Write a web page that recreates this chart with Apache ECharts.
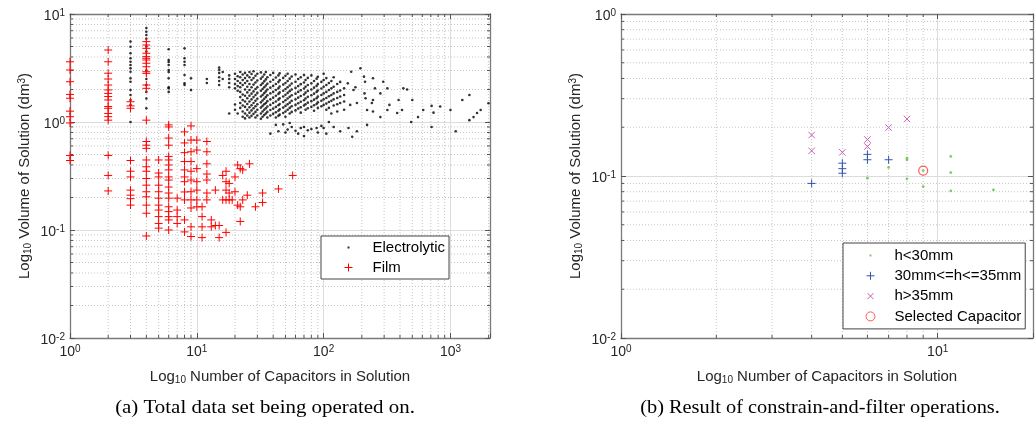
<!DOCTYPE html>
<html>
<head>
<meta charset="utf-8">
<script src="https://cdn.jsdelivr.net/npm/echarts@6/dist/echarts.min.js"></script>
<style>
html,body{margin:0;padding:0;background:#fff;}
#c{width:1036px;height:423px;}
</style>
</head>
<body>
<div id="c"></div>
<script>
// ================= DATA =================
// (a) Film capacitors: [count, [volumes...]]
const FILM_COLUMNS = [
  [1, [3.61, 3.03, 2.36, 1.80, 1.66, 1.26, 1.12, 0.98, 0.49, 0.44]],
  [2, [4.64, 3.61, 2.83, 2.50, 2.20, 1.98, 1.84, 1.72, 1.60, 1.39, 1.34, 1.20, 1.12, 1.04, 0.49, 0.32, 0.23]],
  [3, [1.54, 1.41, 1.34, 0.44, 0.35, 0.31, 0.234, 0.21, 0.195, 0.17]],
  [4, [5.55, 5.16, 4.81, 4.33, 4.03, 3.89, 3.75, 3.50, 3.25, 2.92, 2.82, 2.20, 2.05, 1.04, 0.66, 0.61, 0.57, 0.445, 0.385, 0.35, 0.30, 0.26, 0.226, 0.203, 0.170, 0.143, 0.088]],
  [5, [0.445, 0.337, 0.31, 0.26, 0.226, 0.197, 0.170, 0.153, 0.133, 0.115, 0.104]],
  [6, [0.94, 0.90, 0.71, 0.61, 0.48, 0.445, 0.40, 0.36, 0.31, 0.29, 0.25, 0.22, 0.197, 0.164, 0.148, 0.133, 0.124, 0.10]],
  [7, [0.197, 0.153, 0.133, 0.115]],
  [8, [0.81, 0.64, 0.52, 0.43, 0.36, 0.31, 0.28, 0.225, 0.19, 0.124, 0.096]],
  [9, [0.92, 0.68, 0.53, 0.43, 0.35, 0.29, 0.226, 0.19, 0.16, 0.107, 0.087]],
  [10, [0.68, 0.55, 0.37, 0.28, 0.234, 0.19, 0.164]],
  [11, [0.164, 0.133, 0.107, 0.085]],
  [12, [0.66, 0.53, 0.41, 0.33, 0.29, 0.22, 0.19]],
  [13, [0.124, 0.107]],
  [14, [0.234, 0.11]],
  [15, [0.11, 0.085]],
  [16, [0.32, 0.19]],
  [17, [0.35, 0.28, 0.234, 0.19, 0.095]],
  [18, [0.27, 0.22, 0.19]],
  [19, [0.19]],
  [20, [0.31, 0.226]],
  [21, [0.40, 0.17]],
  [22, [0.37, 0.164, 0.12]],
  [23, [0.36, 0.19]],
  [25, [0.21]],
  [26, [0.41]],
  [29, [0.164]],
  [33, [0.22, 0.18]],
  [44, [0.24]],
  [57, [0.32]]
];

// (a) Electrolytic capacitors: [count, [volumes...]]
const ELEC_COLUMNS = [
  [3, [5.55, 4.98, 4.33, 3.89, 3.61, 3.37, 3.14, 2.92, 2.54, 2.36, 1.98, 1.78, 1.6, 1.44, 1.0]],
  [4, [7.4, 6.85, 6.4, 5.9, 5.0, 4.5, 3.0, 2.5, 2.2, 1.9, 1.65, 1.34]],
  [6, [4.71, 3.75, 3.6, 3.37, 3.03, 2.9, 2.54, 2.1, 2.05, 1.9]],
  [8, [4.81, 3.89, 3.61, 3.37, 2.72, 2.28, 2.2]],
  [9, [2.54, 1.98]],
  [12, [2.5, 2.3]],
  [15, [3.2, 3.05, 2.85, 2.6, 2.4, 2.2]],
  [16, [2.9, 2.5]],
  [18, [2.7, 2.5, 2.3, 2.1, 1.2]],
  [20, [2.8, 2.5, 2.25, 2.05, 1.45, 1.3]],
  [21, [2.65, 2.4, 2.15, 1.95, 1.2]],
  [22, [2.9, 2.6, 2.3, 2.1, 1.9, 1.7, 1.5, 1.35]],
  [23, [2.75, 2.45, 2.2, 1.8, 1.6, 1.42, 1.25, 1.12]],
  [24, [2.85, 2.55, 2.3, 2.0, 1.75, 1.55, 1.38, 1.2, 1.08]],
  [25, [2.7, 2.4, 2.12, 1.88, 1.66, 1.47, 1.3, 1.15]],
  [26, [2.9, 2.6, 2.25, 1.98, 1.75, 1.55, 1.37, 1.22, 1.1]],
  [27, [2.78, 2.45, 2.1, 1.83, 1.62, 1.43, 1.28, 1.14]],
  [28, [2.95, 2.55, 2.22, 1.92, 1.7, 1.5, 1.34, 1.19]],
  [29, [2.68, 2.32, 2.02, 1.78, 1.57, 1.4, 1.24, 1.1]],
  [30, [2.8, 2.42, 2.1, 1.86, 1.64, 1.46, 1.3, 1.15]],
  [32, [2.88, 2.52, 2.2, 1.95, 1.72, 1.52, 1.36, 1.2, 1.07]],
  [33, [2.62, 2.28, 2.02, 1.78, 1.58, 1.41, 1.25, 1.12]],
  [34, [2.75, 2.38, 2.1, 1.85, 1.64, 1.46, 1.3, 1.16]],
  [35, [2.9, 2.48, 2.18, 1.92, 1.7, 1.5, 1.34, 1.2]],
  [36, [2.6, 2.26, 2.0, 1.77, 1.56, 1.39, 1.24, 1.1]],
  [38, [2.72, 2.36, 2.08, 1.84, 1.62, 1.44, 1.29, 1.15, 0.78]],
  [40, [2.85, 2.46, 2.16, 1.9, 1.68, 1.5, 1.33, 1.19]],
  [42, [2.58, 2.25, 1.98, 1.75, 1.55, 1.38, 1.23, 1.1, 0.94]],
  [44, [2.7, 2.34, 2.05, 1.82, 1.61, 1.43, 1.27, 1.14, 0.82]],
  [45, [2.82, 2.44, 2.13, 1.88, 1.66, 1.47, 1.31, 1.17]],
  [48, [2.56, 2.22, 1.95, 1.72, 1.53, 1.36, 1.21, 0.95]],
  [50, [2.68, 2.3, 2.02, 1.79, 1.59, 1.41, 1.25, 1.12, 0.8]],
  [52, [2.8, 2.4, 2.1, 1.86, 1.65, 1.46, 1.3, 0.85]],
  [54, [2.52, 2.18, 1.93, 1.71, 1.51, 1.35, 1.2, 0.98]],
  [56, [2.64, 2.27, 2.0, 1.77, 1.57, 1.4, 1.24, 0.9]],
  [60, [2.75, 2.36, 2.07, 1.83, 1.62, 1.44, 1.28, 0.83]],
  [63, [2.5, 2.15, 1.9, 1.68, 1.49, 1.33, 0.78]],
  [66, [2.6, 2.24, 1.97, 1.74, 1.54, 1.37, 1.22, 0.88]],
  [70, [2.72, 2.32, 2.04, 1.8, 1.59, 1.42, 0.9, 0.74]],
  [72, [2.45, 2.12, 1.87, 1.65, 1.46, 1.3]],
  [75, [2.56, 2.2, 1.94, 1.71, 1.51, 1.34, 0.84]],
  [80, [2.7, 2.28, 2.0, 1.77, 1.56, 1.38, 0.86]],
  [84, [2.4, 2.08, 1.83, 1.61, 1.43, 1.27]],
  [88, [2.52, 2.16, 1.9, 1.66, 1.47, 0.88]],
  [90, [2.62, 2.25, 1.96, 1.72, 1.52, 1.35, 0.8]],
  [96, [2.35, 2.04, 1.78, 1.57, 1.4, 0.92]],
  [100, [2.8, 2.45, 2.12, 1.84, 1.62, 1.44, 0.88]],
  [105, [2.55, 2.2, 1.9, 1.67, 1.48, 1.3, 0.78]],
  [110, [2.3, 1.98, 1.73, 1.53, 1.35, 1.0]],
  [115, [2.4, 2.05, 1.78, 1.57, 1.2]],
  [120, [2.6, 2.12, 1.84, 1.62, 1.42, 0.9]],
  [128, [2.25, 1.9, 1.67, 1.46, 1.25]],
  [135, [2.35, 1.96, 1.72, 1.5, 0.82]],
  [145, [2.05, 1.78, 1.55, 1.3]]
];

// (a) sparse electrolytic points at high counts: [count, volume]
const ELEC_SPARSE = [
  [155, 2.28], [157, 0.88], [162, 1.44], [165, 2.92], [168, 0.73], [172, 1.98], [178, 2.1],
  [183, 1.5], [183, 0.82], [195, 3.14], [208, 2.63], [210, 1.84], [212, 2.36], [214, 1.66],
  [220, 1.29], [220, 0.94], [240, 1.5], [245, 2.54], [245, 1.6], [245, 1.25], [254, 2.05],
  [280, 1.84], [280, 1.11], [295, 2.36], [318, 2.05], [318, 1.29], [330, 1.44], [380, 1.21],
  [390, 1.6], [415, 1.29], [425, 2.05], [455, 2.0], [490, 1.0], [500, 1.6], [555, 1.11],
  [610, 1.29], [710, 1.41], [710, 0.9], [735, 1.22], [830, 1.39], [1000, 1.29], [1100, 0.82],
  [1240, 1.6], [1410, 1.78], [1410, 1.04], [1520, 1.11], [1620, 1.21], [1730, 1.29], [1995, 1.49]
];

// (b) constrain-and-filter results
const B_LOW_N = [6, 7, 8, 8, 8, 9, 9, 11, 11, 11, 15];
const B_LOW_V = [0.097, 0.113, 0.129, 0.126, 0.096, 0.086, 0.108, 0.132, 0.105, 0.081, 0.082];
const B_MID_N = [4, 5, 5, 5, 6, 6, 7];
const B_MID_V = [0.090, 0.120, 0.111, 0.104, 0.136, 0.126, 0.126];
const B_HIGH_N = [4, 4, 5, 6, 6, 7, 8];
const B_HIGH_V = [0.179, 0.143, 0.140, 0.168, 0.152, 0.199, 0.225];
const B_SEL_N = [9];
const B_SEL_V = [0.108];

// axis ranges and minor grid positions
const A_X_RANGE = [1, 2050];
const A_Y_RANGE = [0.01, 10];
const B_X_RANGE = [1, 20];
const B_Y_RANGE = [0.01, 1];
const A_MINOR_X = [2,3,4,5,6,7,8,9,20,30,40,50,60,70,80,90,200,300,400,500,600,700,800,900,2000];
const A_MINOR_Y = [0.02,0.03,0.04,0.05,0.06,0.07,0.08,0.09,0.2,0.3,0.4,0.5,0.6,0.7,0.8,0.9,2,3,4,5,6,7,8,9];
const B_MINOR_X = [2,3,4,5,6,7,8,9];
const B_MINOR_Y = [0.02,0.03,0.04,0.05,0.06,0.07,0.08,0.09,0.2,0.3,0.4,0.5,0.6,0.7,0.8,0.9];

const CAPTION_A = '(a) Total data set being operated on.';
const CAPTION_B = '(b) Result of constrain-and-filter operations.';

// ================= HELPERS =================
const FONT = '"Liberation Sans", Arial, Helvetica, sans-serif';
const TXT = '#262626';
const AXC = '#7a7a7a';
const C_FILM = '#ff0000';
const C_LOW = '#5cc040';
const C_MID = '#3355b0';
const C_HIGH = '#c860b8';
const C_SEL = '#ff3030';

function flatten(cols) { const out = []; cols.forEach(c => c[1].forEach(y => out.push([c[0], y]))); return out; }
function zip(xs, ys) { return xs.map((x, i) => [x, ys[i]]); }

function tickFmt(v) {
  const e = Math.round(Math.log10(v));
  if (Math.abs(v / Math.pow(10, e) - 1) > 1e-6) return '';
  return '{b|10}{s|' + e + '}';
}
const tickRich = {
  b: { fontFamily: FONT, fontSize: 14, color: TXT, lineHeight: 15, padding: [3, 0, 0, 0], verticalAlign: 'bottom' },
  s: { fontFamily: FONT, fontSize: 10, color: TXT, lineHeight: 11, verticalAlign: 'top' }
};
const NAME_X = '{t|Log}{u|10}{t| Number of Capacitors in Solution}';
const NAME_Y = '{t|Log}{u|10}{t| Volume of Solution (dm}{p|3}{t|)}';
const nameRichX = {
  t: { fontFamily: FONT, fontSize: 15, color: TXT, lineHeight: 16, padding: [0, 0, 4, 0], verticalAlign: 'top' },
  u: { fontFamily: FONT, fontSize: 10, color: TXT, lineHeight: 11, verticalAlign: 'bottom' }
};
const nameRichY = {
  t: { fontFamily: FONT, fontSize: 15, color: TXT, lineHeight: 16, padding: [4, 0, 4, 0], verticalAlign: 'middle' },
  u: { fontFamily: FONT, fontSize: 10, color: TXT, lineHeight: 11, verticalAlign: 'bottom' },
  p: { fontFamily: FONT, fontSize: 10, color: TXT, lineHeight: 11, verticalAlign: 'top' }
};

function xAxes(gi, range, nameGap) {
  const common = {
    type: 'log', logBase: 10, gridIndex: gi, min: range[0], max: range[1],
    axisLine: { show: true, lineStyle: { color: AXC, width: 1.3 } },
    axisTick: { show: true, inside: true, length: 5, lineStyle: { color: '#555' } }
  };
  return [
    Object.assign({}, common, {
      position: 'bottom',
      name: NAME_X, nameLocation: 'middle', nameGap: nameGap, nameTextStyle: { rich: nameRichX },
      axisLabel: { formatter: tickFmt, rich: tickRich, margin: 6 },
      splitLine: { show: true, showMinLine: false, showMaxLine: false, lineStyle: { color: '#dcdcdc', width: 1 } }
    }),
    Object.assign({}, common, { position: 'top', axisLabel: { show: false }, splitLine: { show: false } })
  ];
}
function yAxes(gi, range, nameGap) {
  const common = {
    type: 'log', logBase: 10, gridIndex: gi, min: range[0], max: range[1],
    axisLine: { show: true, lineStyle: { color: AXC, width: 1.3 } },
    axisTick: { show: true, inside: true, length: 5, lineStyle: { color: '#555' } }
  };
  return [
    Object.assign({}, common, {
      position: 'left',
      name: NAME_Y, nameLocation: 'middle', nameGap: nameGap, nameTextStyle: { rich: nameRichY },
      axisLabel: { formatter: tickFmt, rich: tickRich, margin: 5, padding: [4, 0, 0, 0] },
      splitLine: { show: true, showMinLine: false, showMaxLine: false, lineStyle: { color: '#dcdcdc', width: 1 } }
    }),
    Object.assign({}, common, { position: 'right', axisLabel: { show: false }, splitLine: { show: false } })
  ];
}

// Minor (dotted) grid lines and minor edge ticks, drawn through the axes' scales
function minorGrid(xi, yi, xr, yr, mx, my) {
  const data = mx.map(v => [v, yr[0], 0]).concat(my.map(v => [xr[0], v, 1]));
  return {
    type: 'custom', xAxisIndex: xi, yAxisIndex: yi, z: 1, silent: true, clip: true,
    dimensions: ['x', 'y', 'k'], encode: { x: 0, y: 1 },
    data: data,
    renderItem: function (params, api) {
      const k = api.value(2);
      let p0, p1;
      if (k === 0) { p0 = api.coord([api.value(0), yr[0]]); p1 = api.coord([api.value(0), yr[1]]); }
      else { p0 = api.coord([xr[0], api.value(1)]); p1 = api.coord([xr[1], api.value(1)]); }
      const tick = { stroke: '#555', lineWidth: 1 };
      const children = [
        { type: 'line', shape: { x1: p0[0], y1: p0[1], x2: p1[0], y2: p1[1] },
          style: { stroke: '#c4c4c4', lineWidth: 1, lineDash: [1, 2] } }
      ];
      if (k === 0) {
        children.push({ type: 'line', shape: { x1: p0[0], y1: p0[1], x2: p0[0], y2: p0[1] - 3 }, style: tick });
        children.push({ type: 'line', shape: { x1: p1[0], y1: p1[1], x2: p1[0], y2: p1[1] + 3 }, style: tick });
      } else {
        children.push({ type: 'line', shape: { x1: p0[0], y1: p0[1], x2: p0[0] + 3, y2: p0[1] }, style: tick });
        children.push({ type: 'line', shape: { x1: p1[0], y1: p1[1], x2: p1[0] - 3, y2: p1[1] }, style: tick });
      }
      return { type: 'group', children: children };
    }
  };
}

const BOX = 'M0 0M38 14';
const ICON_DOT = 'path://' + BOX + 'M18 6L20 6L20 8L18 8Z';
const ICON_PLUS = 'path://' + BOX + 'M15 7L23 7M19 3L19 11';
const ICON_X = 'path://' + BOX + 'M16 4L22 10M22 4L16 10';
const ICON_O = 'path://' + BOX + 'M23.5 7A4.5 4.5 0 1 1 14.5 7A4.5 4.5 0 1 1 23.5 7Z';
const SYM_PLUS = 'path://M0 5L10 5M5 0L5 10';
const SYM_X = 'path://M0 0L10 10M10 0L0 10';

const legendText = { fontFamily: FONT, fontSize: 15, color: '#000', lineHeight: 14 };

function strokeItem(c, w) { return { color: c, borderColor: c, borderWidth: w, opacity: 1 }; }
const noEmph = { disabled: true };

// ================= CHART =================
const chart = echarts.init(document.getElementById('c'), null, { renderer: 'canvas' });
const option = {
  animation: false,
  backgroundColor: '#fff',
  grid: [
    { left: 70, top: 14, width: 420, height: 324, show: false },
    { left: 621, top: 14, width: 420, height: 324, show: false }
  ],
  xAxis: xAxes(0, A_X_RANGE, 31).concat(xAxes(1, B_X_RANGE, 31)),
  yAxis: yAxes(0, A_Y_RANGE, 35).concat(yAxes(1, B_Y_RANGE, 36)),
  legend: [
    {
      orient: 'vertical', left: 321, top: 236, itemWidth: 38, itemHeight: 14, itemGap: 5,
      padding: [4, 4, 4, 8], borderColor: '#444', borderWidth: 1, backgroundColor: '#fff',
      selectedMode: false, textStyle: legendText,
      data: [
        { name: 'Electrolytic', icon: ICON_DOT, itemStyle: { color: '#000', borderWidth: 0 } },
        { name: 'Film', icon: ICON_PLUS, itemStyle: { color: 'rgba(0,0,0,0)', borderColor: C_FILM, borderWidth: 1 } }
      ]
    },
    {
      orient: 'vertical', left: 843, top: 243, itemWidth: 38, itemHeight: 14, itemGap: 5.3,
      padding: [5, 4, 5, 8], borderColor: '#444', borderWidth: 1, backgroundColor: '#fff',
      selectedMode: false, textStyle: legendText,
      data: [
        { name: 'h<30mm', icon: ICON_DOT, itemStyle: { color: C_LOW, borderWidth: 0 } },
        { name: '30mm<=h<=35mm', icon: ICON_PLUS, itemStyle: { color: 'rgba(0,0,0,0)', borderColor: C_MID, borderWidth: 1 } },
        { name: 'h>35mm', icon: ICON_X, itemStyle: { color: 'rgba(0,0,0,0)', borderColor: C_HIGH, borderWidth: 1 } },
        { name: 'Selected Capacitor', icon: ICON_O, itemStyle: { color: 'rgba(0,0,0,0)', borderColor: C_SEL, borderWidth: 1 } }
      ]
    }
  ],
  series: [
    minorGrid(0, 0, A_X_RANGE, A_Y_RANGE, A_MINOR_X, A_MINOR_Y),
    minorGrid(2, 2, B_X_RANGE, B_Y_RANGE, B_MINOR_X, B_MINOR_Y),
    {
      name: 'Electrolytic', type: 'scatter', xAxisIndex: 0, yAxisIndex: 0, z: 3, emphasis: noEmph,
      symbol: 'circle', symbolSize: 2.6, itemStyle: { color: '#000' },
      data: flatten(ELEC_COLUMNS).concat(ELEC_SPARSE)
    },
    {
      name: 'Film', type: 'scatter', xAxisIndex: 0, yAxisIndex: 0, z: 4, emphasis: noEmph,
      symbol: SYM_PLUS, symbolSize: 8, itemStyle: strokeItem(C_FILM, 1),
      data: flatten(FILM_COLUMNS)
    },
    {
      name: 'Selected Capacitor', type: 'scatter', xAxisIndex: 2, yAxisIndex: 2, z: 3, emphasis: noEmph,
      symbol: 'circle', symbolSize: 9,
      itemStyle: { color: 'rgba(255,255,255,0)', borderColor: C_SEL, borderWidth: 1.2 },
      data: zip(B_SEL_N, B_SEL_V)
    },
    {
      name: 'h<30mm', type: 'scatter', xAxisIndex: 2, yAxisIndex: 2, z: 4, emphasis: noEmph,
      symbol: 'circle', symbolSize: 2.8, itemStyle: { color: C_LOW },
      data: zip(B_LOW_N, B_LOW_V)
    },
    {
      name: '30mm<=h<=35mm', type: 'scatter', xAxisIndex: 2, yAxisIndex: 2, z: 4, emphasis: noEmph,
      symbol: SYM_PLUS, symbolSize: 8, itemStyle: strokeItem(C_MID, 1),
      data: zip(B_MID_N, B_MID_V)
    },
    {
      name: 'h>35mm', type: 'scatter', xAxisIndex: 2, yAxisIndex: 2, z: 4, emphasis: noEmph,
      symbol: SYM_X, symbolSize: 6.5, itemStyle: strokeItem(C_HIGH, 1),
      data: zip(B_HIGH_N, B_HIGH_V)
    }
  ],
  graphic: [
    { type: 'text', x: 265, y: 408, scaleX: 1.1, silent: true,
      style: { text: CAPTION_A, fontFamily: '"Liberation Serif", "Times New Roman", serif', fontSize: 19, fill: '#000', align: 'center', verticalAlign: 'middle' } },
    { type: 'text', x: 820, y: 408, scaleX: 1.07, silent: true,
      style: { text: CAPTION_B, fontFamily: '"Liberation Serif", "Times New Roman", serif', fontSize: 19, fill: '#000', align: 'center', verticalAlign: 'middle' } }
  ]
};
chart.setOption(option);
</script>
</body>
</html>
